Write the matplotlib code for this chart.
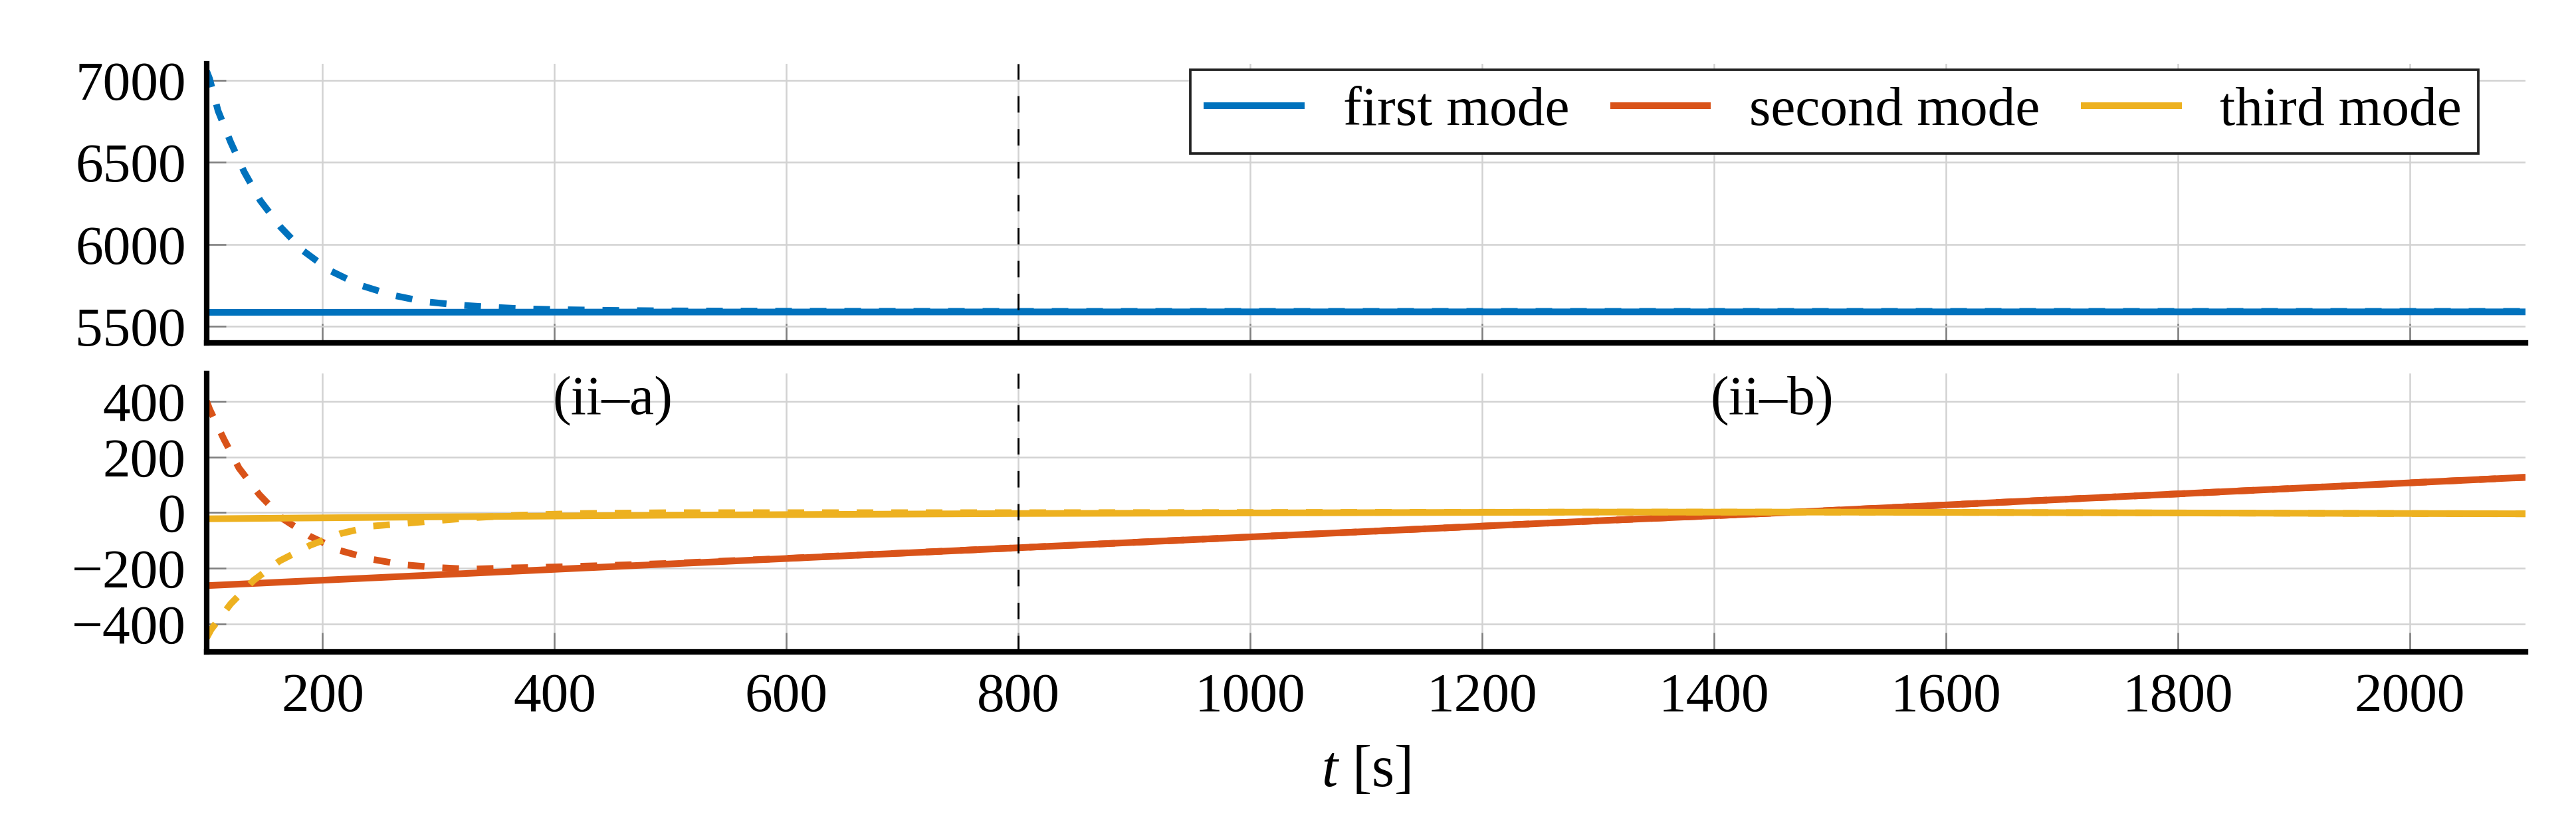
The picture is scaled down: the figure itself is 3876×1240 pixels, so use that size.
import matplotlib
matplotlib.use("Agg")
import matplotlib.pyplot as plt
from matplotlib.lines import Line2D

plt.rcParams['font.family'] = ['Liberation Serif', 'DejaVu Serif']
plt.rcParams['mathtext.fontset'] = 'custom'
plt.rcParams['mathtext.rm'] = 'Liberation Serif'
plt.rcParams['mathtext.it'] = 'Liberation Serif:italic'

# ---------------- data ----------------
mode_labels = ["first mode", "second mode", "third mode"]
mode_colors = ["#0072BD", "#D95319", "#EDB120"]

# first mode (top panel)
t_first_solid = [100, 500, 1000, 1500, 2100]
first_solid = [5586, 5588, 5589, 5589, 5589]
t_first_dash = [100, 102.5, 109.8, 120.6, 132.3, 146.3, 163.9, 183.4, 206.2, 231.7,
                259.5, 287.2, 316.5, 344.3, 372, 400, 450, 500, 600, 800, 1200, 1600, 2100]
first_dash = [7055, 7009, 6814, 6624, 6442, 6266, 6104, 5960, 5841, 5753,
              5692, 5652, 5631, 5618, 5608, 5603, 5598, 5595, 5593, 5592, 5592, 5592, 5592]

# second mode (bottom panel)
t_second_solid = [100, 500, 800, 1300, 1460, 2100]
second_solid = [-262, -184, -126, -29, 0, 127]
t_second_dash = [100, 102.5, 114.7, 127.9, 145.4, 165.3, 188.7, 215, 242, 269.8,
                 299, 326.7, 356, 400, 450, 500, 600, 800, 1300, 1460, 2100]
second_dash = [400, 372, 265, 160, 65, -21, -84, -136, -167, -187,
               -197, -203, -199, -195, -189, -182, -164, -126, -29, 0, 127]

# third mode (bottom panel)
t_third_solid = [100, 300, 500, 800, 1100, 1300, 1500, 1700, 1900, 2100]
third_solid = [-22, -15, -9, -3, 0, 2, 2, 0, -2, -4]
t_third_dash = [100, 103.9, 120.6, 140.5, 163, 189.3, 215.6, 243.4, 272.6, 300.4,
                330, 370, 420, 500, 600, 800, 1100, 1300, 1500, 1700, 1900, 2100]
third_dash = [-449, -419, -328, -243, -173, -117, -75, -48, -38, -28,
              -18, -9, -3, 0, 0, 0, 1, 2, 2, 0, -2, -4]

t_switch = 800
region_labels = ["(ii\u2013a)", "(ii\u2013b)"]
region_t = [450, 1450]
region_y = [400, 400]

xticks = [200, 400, 600, 800, 1000, 1200, 1400, 1600, 1800, 2000]
yticks_top = [5500, 6000, 6500, 7000]
yticks_bot = [-400, -200, 0, 200, 400]

# ---------------- figure ----------------
W, H, DPI = 3876, 1240, 300
fig = plt.figure(figsize=(W / DPI, H / DPI), dpi=DPI)
L, R = 311 / W, 3800 / W
ax1 = fig.add_axes([L, 1 - 516 / H, R - L, (516 - 96) / H])
ax2 = fig.add_axes([L, 1 - 981 / H, R - L, (981 - 562) / H])

FS = 20
LW = 2.4
DASH = (0, (2.5, 2.7))

for ax in (ax1, ax2):
    ax.set_xlim(100, 2100)
    ax.set_xticks(xticks)
    for s in ("top", "right"):
        ax.spines[s].set_visible(False)
    for s in ("left", "bottom"):
        ax.spines[s].set_linewidth(2.0)
        ax.spines[s].set_color("black")
    ax.tick_params(direction="in", length=7, width=0.6, color="#7f7f7f",
                   labelsize=FS, pad=7.5, labelcolor="black")
    ax.grid(True, color="#d2d2d2", linewidth=0.6)
    ax.set_axisbelow(True)
    ax.axvline(t_switch, color="black", lw=0.7, ls=(0, (8.5, 8.5)), zorder=5)

ax1.set_ylim(5400, 7100)
ax1.set_yticks(yticks_top)
ax1.tick_params(labelbottom=False)
ax2.set_ylim(-500, 500)
ax2.set_yticks(yticks_bot)

ax1.plot(t_first_solid, first_solid, color=mode_colors[0], lw=LW, solid_capstyle="butt")
ax1.plot(t_first_dash, first_dash, color=mode_colors[0], lw=LW, ls=DASH, dash_capstyle="butt")

ax2.plot(t_second_solid, second_solid, color=mode_colors[1], lw=LW, solid_capstyle="butt")
ax2.plot(t_second_dash, second_dash, color=mode_colors[1], lw=LW, ls=DASH, dash_capstyle="butt")
ax2.plot(t_third_solid, third_solid, color=mode_colors[2], lw=LW, solid_capstyle="butt")
ax2.plot(t_third_dash, third_dash, color=mode_colors[2], lw=LW, ls=DASH, dash_capstyle="butt")

for lab, tx, ty in zip(region_labels, region_t, region_y):
    ax2.text(tx, ty, lab, fontsize=FS, ha="center", va="center")

ax2.set_xlabel("$t$ [s]", fontsize=FS + 1, labelpad=8)

handles = [Line2D([], [], color=c, lw=LW) for c in mode_colors]
leg = ax1.legend(handles, mode_labels, loc="upper right", bbox_to_anchor=(0.9796, 0.9786),
                 ncol=3, fontsize=FS, frameon=True, fancybox=False, framealpha=1,
                 edgecolor="#222222", handlelength=1.7, handletextpad=0.75,
                 columnspacing=0.8, borderpad=0.3, borderaxespad=0)
leg.get_frame().set_linewidth(0.9)

fig.savefig("out.png", dpi=DPI)
